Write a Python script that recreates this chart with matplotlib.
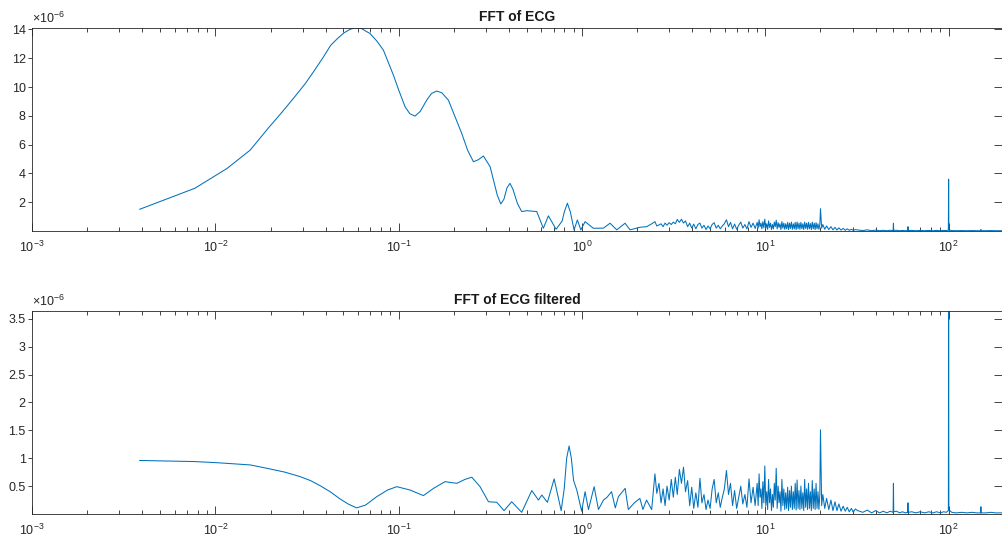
import numpy as np
import matplotlib
matplotlib.use("Agg")
import matplotlib.pyplot as plt
from matplotlib.ticker import LogLocator, NullFormatter, FixedLocator

plt.rcParams['font.family'] = ['Liberation Sans', 'DejaVu Sans']
plt.rcParams['mathtext.default'] = 'regular'

# spectrum magnitudes, in units of 1e-6

# low frequency part of the raw ECG spectrum (Hz)
raw_low_f = [0.00387, 0.00774, 0.0116, 0.0155, 0.0194, 0.0232, 0.0271, 0.0310, 0.0348,
             0.0387, 0.0426, 0.0464, 0.0503, 0.0542, 0.0560, 0.0581, 0.0600, 0.0620,
             0.0640, 0.0658, 0.0697, 0.0760, 0.0826, 0.0936, 0.1000, 0.1084, 0.1150,
             0.1228, 0.1310, 0.1423, 0.1510, 0.1614, 0.1720, 0.1868, 0.2208, 0.2380,
             0.2558, 0.2720, 0.2899, 0.3154, 0.3450, 0.3606, 0.3750, 0.3900, 0.4049,
             0.4200, 0.4450, 0.4690, 0.4997, 0.5666, 0.6155, 0.6559, 0.7228, 0.7800,
             0.8000, 0.8326, 0.8650, 0.9055, 0.9441, 0.9857, 1.040, 1.154, 1.309,
             1.423, 1.548, 1.718, 1.829, 2.073, 2.255, 2.400]
raw_low_v = [1.51, 2.97, 4.35, 5.62, 7.13, 8.28, 9.32, 10.25, 11.17,
             12.05, 12.90, 13.37, 13.76, 14.00, 14.06, 14.10, 14.10, 14.08,
             14.00, 13.90, 13.72, 13.20, 12.56, 10.83, 9.80, 8.63, 8.15,
             7.98, 8.30, 9.09, 9.55, 9.72, 9.60, 9.09, 6.78, 5.60,
             4.81, 4.95, 5.21, 4.47, 2.50, 1.88, 2.20, 3.00, 3.31,
             2.90, 1.90, 1.35, 1.41, 1.35, 0.19, 1.05, 0.12, 0.70,
             1.30, 1.93, 1.30, 0.08, 0.77, 0.08, 0.65, 0.19, 0.20,
             0.54, 0.08, 0.54, 0.08, 0.26, 0.30, 0.50]

# low frequency part of the filtered spectrum (Hz)
filt_low_f = [0.00387, 0.00774, 0.0102, 0.0155, 0.0191, 0.0240, 0.0290, 0.0330, 0.0372,
              0.0423, 0.0479, 0.0530, 0.0590, 0.0660, 0.0759, 0.0870, 0.0977, 0.1154,
              0.1365, 0.1550, 0.1790, 0.2077, 0.2300, 0.2506, 0.2780, 0.3090, 0.3430,
              0.3758, 0.4136, 0.4690, 0.5325, 0.5790, 0.6040, 0.6480, 0.7050, 0.7700,
              0.8000, 0.8250, 0.8510, 0.8750, 0.9000, 0.9370, 0.9960, 1.040, 1.085,
              1.165, 1.230, 1.310, 1.370, 1.450, 1.520, 1.580, 1.720, 1.790, 1.930,
              2.070, 2.150, 2.250, 2.400]
filt_low_v = [0.96, 0.94, 0.92, 0.88, 0.82, 0.75, 0.67, 0.60, 0.51,
              0.40, 0.27, 0.18, 0.11, 0.16, 0.31, 0.43, 0.49, 0.43,
              0.33, 0.46, 0.58, 0.55, 0.62, 0.66, 0.49, 0.22, 0.21,
              0.06, 0.22, 0.03, 0.42, 0.25, 0.34, 0.21, 0.63, 0.06,
              0.45, 1.00, 1.22, 1.00, 0.60, 0.43, 0.05, 0.40, 0.08,
              0.49, 0.08, 0.25, 0.30, 0.40, 0.11, 0.31, 0.46, 0.08, 0.20,
              0.28, 0.08, 0.25, 0.08]

# noisy band 2.5 - 31 Hz, shared frequencies (finer bins 9 - 20 Hz)
band_f = [2.50, 2.56, 2.63, 2.70, 2.77, 2.84, 2.91, 2.99, 3.07, 3.15,
          3.23, 3.31, 3.40, 3.49, 3.58, 3.67, 3.77, 3.87, 3.97, 4.07,
          4.18, 4.29, 4.40, 4.51, 4.63, 4.75, 4.87, 5.00, 5.13, 5.26,
          5.40, 5.54, 5.68, 5.83, 5.98, 6.14, 6.30, 6.46, 6.63, 6.80,
          6.98, 7.16, 7.35, 7.54, 7.74, 7.94, 8.15, 8.36, 8.58, 8.80,
          9.03, 9.14, 9.25, 9.36, 9.47, 9.58, 9.70, 9.82, 9.94, 10.06,
          10.18, 10.30, 10.42, 10.55, 10.68, 10.81, 10.94, 11.07, 11.20, 11.33,
          11.47, 11.61, 11.75, 11.89, 12.03, 12.17, 12.32, 12.47, 12.62, 12.77,
          12.92, 13.08, 13.24, 13.40, 13.56, 13.72, 13.88, 14.05, 14.22, 14.39,
          14.56, 14.73, 14.91, 15.09, 15.27, 15.45, 15.64, 15.83, 16.02, 16.21,
          16.40, 16.60, 16.80, 17.00, 17.20, 17.41, 17.62, 17.83, 18.04, 18.26,
          18.48, 18.70, 18.92, 19.15, 19.38, 19.61, 19.84, 20.00,
          20.3, 20.6, 21.1, 21.6, 22.2, 22.8, 23.4, 24.0, 24.6, 25.2,
          25.9, 26.6, 27.3, 28.0, 28.7, 29.5, 30.2, 31.0]
raw_band_v = [0.65, 0.35, 0.42, 0.50, 0.30, 0.55, 0.40, 0.58, 0.45, 0.62,
              0.50, 0.80, 0.60, 0.82, 0.55, 0.70, 0.30, 0.55, 0.20, 0.48,
              0.15, 0.45, 0.55, 0.20, 0.40, 0.10, 0.35, 0.15, 0.45, 0.58,
              0.20, 0.40, 0.15, 0.35, 0.50, 0.78, 0.30, 0.60, 0.15, 0.48,
              0.12, 0.40, 0.62, 0.20, 0.45, 0.15, 0.65, 0.25, 0.55, 0.18,
              0.60, 0.20, 0.78, 0.30, 0.55, 0.15, 0.65, 0.22, 0.82, 0.20,
              0.50, 0.12, 0.70, 0.25, 0.55, 0.10, 0.45, 0.15, 0.62, 0.30,
              0.75, 0.15, 0.58, 0.25, 0.50, 0.10, 0.65, 0.20, 0.55, 0.12,
              0.50, 0.15, 0.60, 0.10, 0.55, 0.18, 0.62, 0.12, 0.50, 0.15,
              0.60, 0.10, 0.62, 0.15, 0.55, 0.12, 0.60, 0.15, 0.50, 0.10,
              0.62, 0.18, 0.55, 0.12, 0.60, 0.15, 0.52, 0.10, 0.62, 0.15,
              0.55, 0.10, 0.58, 0.15, 0.50, 0.12, 0.45, 1.55,
              0.20, 0.45, 0.12, 0.35, 0.10, 0.30, 0.08, 0.25, 0.07, 0.22,
              0.06, 0.18, 0.05, 0.15, 0.05, 0.12, 0.04, 0.10]
filt_band_v = [0.72, 0.37, 0.55, 0.20, 0.45, 0.15, 0.50, 0.25, 0.62, 0.30,
               0.66, 0.35, 0.80, 0.55, 0.84, 0.40, 0.60, 0.15, 0.48, 0.10,
               0.38, 0.12, 0.64, 0.20, 0.35, 0.08, 0.25, 0.10, 0.45, 0.62,
               0.20, 0.38, 0.12, 0.30, 0.45, 0.78, 0.35, 0.55, 0.15, 0.42,
               0.10, 0.30, 0.50, 0.18, 0.35, 0.12, 0.63, 0.20, 0.48, 0.15,
               0.55, 0.15, 0.72, 0.30, 0.45, 0.10, 0.58, 0.20, 0.86, 0.15,
               0.40, 0.08, 0.62, 0.20, 0.45, 0.06, 0.35, 0.12, 0.55, 0.25,
               0.82, 0.10, 0.50, 0.20, 0.40, 0.05, 0.62, 0.15, 0.45, 0.08,
               0.38, 0.10, 0.48, 0.06, 0.42, 0.12, 0.50, 0.08, 0.40, 0.10,
               0.55, 0.07, 0.61, 0.10, 0.42, 0.08, 0.50, 0.10, 0.38, 0.06,
               0.62, 0.12, 0.45, 0.08, 0.55, 0.10, 0.40, 0.06, 0.60, 0.10,
               0.45, 0.08, 0.55, 0.10, 0.40, 0.08, 0.35, 1.51,
               0.15, 0.35, 0.10, 0.28, 0.08, 0.25, 0.06, 0.22, 0.06, 0.18,
               0.05, 0.14, 0.05, 0.12, 0.04, 0.10, 0.03, 0.09]

# high frequency tail with mains harmonics
tail_f = [32, 34, 36, 38, 40, 42, 44, 46, 48, 49.8, 50.0, 50.2, 52, 54, 56, 58,
          59.8, 60.0, 60.2, 63, 66, 70, 74, 78, 82, 86, 90, 94, 97, 99.7, 100.0,
          100.3, 104, 110, 118, 126, 134, 142, 149.8, 150.0, 150.2, 160, 170, 180,
          190, 200]
raw_tail_v = [0.07, 0.03, 0.08, 0.02, 0.06, 0.02, 0.05, 0.02, 0.05, 0.03, 0.54, 0.04,
              0.05, 0.02, 0.04, 0.02, 0.03, 0.30, 0.03, 0.04, 0.02, 0.04, 0.02, 0.04,
              0.02, 0.04, 0.02, 0.04, 0.03, 0.06, 3.60, 0.08, 0.03, 0.02, 0.03, 0.02,
              0.03, 0.02, 0.02, 0.10, 0.02, 0.02, 0.03, 0.02, 0.02, 0.02]
filt_tail_v = [0.06, 0.03, 0.07, 0.02, 0.06, 0.02, 0.05, 0.02, 0.05, 0.03, 0.55, 0.04,
               0.05, 0.02, 0.04, 0.02, 0.03, 0.20, 0.03, 0.04, 0.02, 0.04, 0.02, 0.04,
               0.02, 0.04, 0.02, 0.04, 0.03, 0.06, 3.64, 0.08, 0.03, 0.02, 0.03, 0.02,
               0.03, 0.02, 0.02, 0.13, 0.02, 0.02, 0.03, 0.02, 0.02, 0.02]

titles = ['FFT of ECG', 'FFT of ECG filtered']
raw_yticks = [2, 4, 6, 8, 10, 12, 14]
filt_yticks = [0.5, 1, 1.5, 2, 2.5, 3, 3.5]

blue = '#0072BD'
dark = '#262626'

fig = plt.figure(figsize=(10.02, 5.42), dpi=100)
W, H = 1002.0, 542.0
ax1 = fig.add_axes([32 / W, (H - 231) / H, 971 / W, 203 / H])
ax2 = fig.add_axes([32 / W, (H - 514) / H, 971 / W, 203 / H])

panels = [
    (ax1, raw_low_f, raw_low_v, raw_band_v, raw_tail_v, 14.1, raw_yticks, titles[0]),
    (ax2, filt_low_f, filt_low_v, filt_band_v, filt_tail_v, 3.64, filt_yticks, titles[1]),
]

for ax, lf, lv, bv, tv, ytop, yt, title in panels:
    f = np.concatenate([lf, band_f, tail_f])
    v = np.concatenate([lv, bv, tv])
    ax.plot(f, v, color=blue, lw=0.75)
    ax.set_xscale('log')
    ax.set_xlim(1e-3, 198)
    ax.set_ylim(0, ytop)
    ax.xaxis.set_major_locator(LogLocator(base=10, numticks=12))
    ax.xaxis.set_minor_locator(LogLocator(base=10, subs=np.arange(2, 10), numticks=12))
    ax.xaxis.set_minor_formatter(NullFormatter())
    ax.yaxis.set_major_locator(FixedLocator(yt))
    ax.set_yticklabels([('%g' % t) for t in yt])
    for s in ax.spines.values():
        s.set_color(dark)
        s.set_linewidth(0.6)
    ax.spines['right'].set_visible(False)
    ax.tick_params(axis='x', which='both', direction='in', top=True, bottom=True,
                   colors=dark, labelsize=9, pad=6, width=0.6)
    ax.tick_params(axis='x', which='major', length=5.5)
    ax.tick_params(axis='x', which='minor', length=3)
    ax.tick_params(axis='y', which='major', direction='out', length=3, width=0.6,
                   left=True, right=False, colors=dark, labelsize=9, pad=1.5)
    sec = ax.secondary_yaxis('right')
    sec.set_yticks(yt)
    sec.tick_params(direction='in', length=6.5, width=0.6, colors=dark, labelright=False)
    sec.spines['right'].set_visible(False)
    ax.set_title(title, fontsize=10, fontweight='bold', color='#1a1a1a', pad=5)
    ax.text(0.0, 1.008, '×$\\mathdefault{10^{-6}}$', transform=ax.transAxes,
            fontsize=9, color=dark, ha='left', va='bottom')

fig.savefig('out.png', dpi=100)
